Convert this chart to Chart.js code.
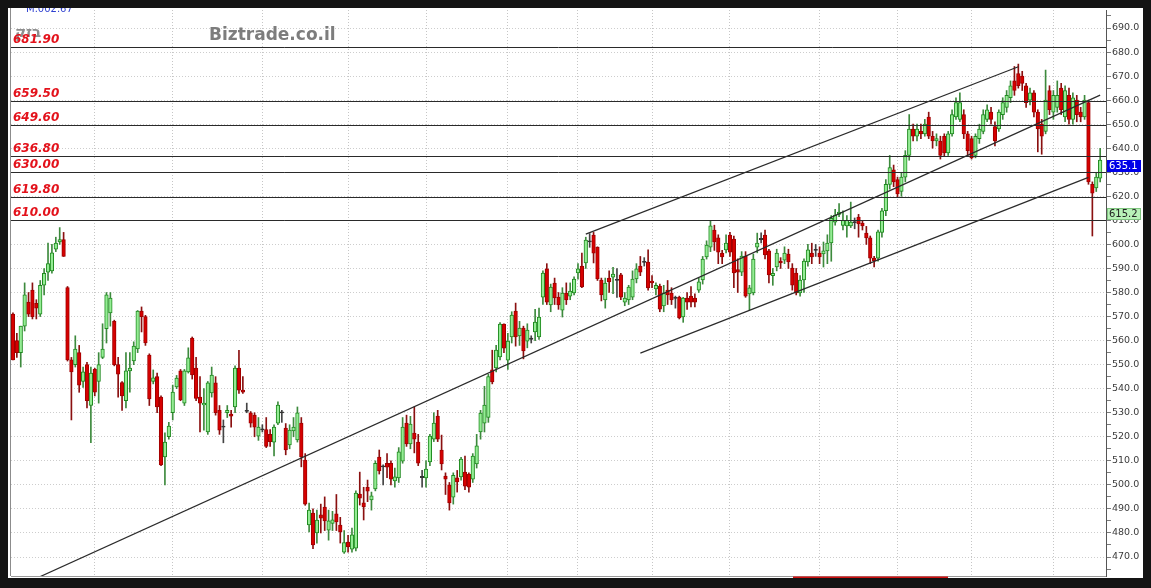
<!DOCTYPE html>
<html>
<head>
<meta charset="utf-8">
<script src="https://cdn.jsdelivr.net/npm/chart.js@4.4.1/dist/chart.umd.min.js"></script>
<style>
  html, body { margin: 0; padding: 0; background: #141414; width: 1151px; height: 588px; overflow: hidden; }
  #c { position: absolute; left: 8px; top: 8px; }
</style>
</head>
<body>
<canvas id="c" width="1135" height="570"></canvas>
<script>
// Daily OHLC, oldest first
const open = [
  571, 560, 555, 566, 576, 581, 575.5, 571, 583, 588.5,
  589, 598, 601, 602, 582, 552, 550, 555, 543, 550,
  533, 548, 543, 553, 565, 571.5, 568, 550, 542.5, 535,
  547.4, 551.5, 556.5, 572.3, 570, 554, 543, 545, 536.5, 511.6,
  520, 530, 540.7, 547.4, 534, 547, 561, 548.6, 536.5, 533.2,
  522, 538.2, 542.4, 531, 524, 530, 529.4, 532.4, 548.6, 539.4,
  531, 530, 529, 520.3, 523, 523, 521, 517.8, 525.7, 530.3,
  523.6, 516.6, 522.4, 518.7, 525.7, 510.3, 483.3, 488.3, 480, 487.5,
  490.8, 481.2, 484, 488, 483.3, 472, 476.2, 473.3, 473.7, 496.2,
  492.5, 499, 493.7, 498.3, 511.6, 507.5, 509, 509, 501.6, 502.9,
  509.9, 525.7, 517, 521.5, 517.8, 503, 502.9, 509.5, 519, 528.6,
  514.5, 503.7, 500, 494.9, 502.9, 503.3, 505.3, 504.5, 502.4, 508.7,
  522, 525.7, 528, 547.8, 548.6, 553.2, 566.9, 551.9, 561.5, 572.3,
  561.9, 565.2, 559.8, 560.5, 563.6, 561.5, 578.1, 589.8, 574.8, 583.9,
  578.1, 572.7, 579.8, 578.5, 579.8, 588.1, 591, 592.3, 601, 603.9,
  598.9, 585.2, 576.9, 586, 586.4, 585, 587.3, 576, 576.9, 578.1,
  585.6, 591, 592.5, 592.7, 584.8, 581.5, 582.7, 574.4, 581, 579.8,
  578, 578.1, 569.8, 577.7, 578.5, 577.7, 581, 585.2, 594.8, 598.9,
  606, 602.7, 596.4, 597.7, 603.9, 602.2, 589.5, 588.5, 595.2, 579.4,
  579.8, 598.9, 602, 603.9, 597.3, 587, 590.6, 593.1, 593.5, 596,
  590.2, 588.1, 579.8, 585.2, 592.7, 596.4, 598, 596.4, 596, 597.3,
  600.6, 609.3, 612.5, 607.9, 607.7, 607.7, 609.5, 611.4, 608.9, 604.7,
  602.7, 594.3, 594.3, 605, 614, 625, 631, 627, 622, 628,
  637, 648, 645, 647, 646, 653, 645, 643, 643, 645,
  638, 646, 653, 652, 654, 646, 644, 637, 644, 647,
  652, 655, 649, 648, 654, 657, 661, 668, 671, 670,
  666, 660, 663, 655, 650, 647, 664, 655, 657, 665,
  653, 662, 652, 660, 655, 653, 659, 625, 623.5, 627.6
];
const high = [
  571.6, 563, 566, 584, 580, 584, 577, 585, 590, 600.6,
  600, 603, 607, 605, 582.5, 553, 562, 558, 549, 551,
  549, 548.5, 555, 567, 580, 580, 568.5, 553, 543, 555,
  555, 559.5, 572.5, 574, 570.5, 554.5, 547.8, 546.5, 537, 521.6,
  526, 541.5, 545.5, 548, 548, 557, 561.5, 553, 545, 540,
  543, 549, 545, 533, 527, 533, 531, 549.5, 556, 545,
  534, 530.5, 530, 528, 525, 528, 523, 525, 534.5, 531,
  525.5, 525, 528, 532.4, 528, 513, 492.4, 490, 489.5, 492,
  495, 489.5, 489, 496, 486.5, 481, 479, 482, 497.5, 505.3,
  499, 502, 497, 510, 514.5, 508.3, 513, 510, 507, 515.5,
  528, 529, 528.5, 532.4, 521, 506, 510, 521, 530, 531,
  520.7, 505, 501, 505, 506, 511.5, 512, 505, 513, 521,
  531, 541, 546, 556, 558, 567.5, 567, 563, 572, 575.6,
  568, 566, 567, 562, 573, 573.5, 589, 592, 583.5, 586,
  580, 582, 584, 584, 586.5, 592, 596.4, 603, 604.5, 605,
  599, 586, 586, 589, 590.5, 590, 588, 580, 583, 589,
  592, 595, 594.5, 597.7, 587, 584, 583.5, 583, 585, 582,
  578.5, 578.5, 578, 580, 582.5, 579.5, 586, 595, 601.5, 610,
  608, 604, 597.5, 604, 605, 603.5, 594, 597, 597, 583,
  596, 604.7, 604.8, 606, 598, 590, 598, 594.5, 599, 598,
  592, 590, 587, 594, 600, 600.5, 600, 599, 601, 604,
  612, 614.6, 617, 614, 612, 617.6, 611, 612.5, 610, 607.5,
  603.5, 595, 606, 615, 627, 637, 633, 628, 630, 639,
  654, 650, 650, 650, 652, 655, 647, 646, 645, 646,
  647, 656, 661, 663, 656, 647, 645, 646, 650, 656,
  658, 657, 651, 656, 661, 664, 668, 674, 675, 672,
  667, 665, 664, 656, 652, 672.5, 666, 664, 668, 667,
  666, 665, 663, 662, 657, 662, 660, 626, 630, 640
];
const low = [
  552, 553, 549, 564, 570, 569, 569, 570, 579, 585,
  588, 597, 600, 595, 551.5, 527, 549, 538.5, 540.5, 532,
  517.5, 537, 534, 552.5, 559, 566, 549.5, 536.5, 531, 532,
  538.6, 550, 555, 563.6, 558, 533, 542, 530, 508, 500,
  519, 527, 540, 535, 533, 546.5, 544, 535, 522, 522.8,
  521, 536.5, 529, 521, 517.5, 528, 524, 530, 538, 538,
  530, 524, 520, 518.5, 522, 515.5, 516, 512, 525, 526,
  512.5, 515, 520, 517.8, 507.5, 491.5, 480.4, 473.5, 475.8, 480,
  481, 477, 481, 481, 475.8, 471.5, 472, 472, 472.5, 491.6,
  485.4, 493, 489.5, 497.5, 504.5, 500, 503, 500, 499, 501,
  509, 516, 515, 513.3, 508, 499, 499, 508, 518, 518,
  506.2, 496, 489.5, 492, 497, 502, 498, 497, 501, 507,
  519, 522, 526, 542, 547, 552, 555, 548, 559, 557.7,
  558, 552.4, 557, 559, 560, 560.5, 575, 575, 572, 575,
  573, 569.8, 575, 577, 579, 585.5, 582, 590, 598.8, 592.3,
  585, 576.5, 573.5, 580, 579.5, 578, 577, 574.5, 575, 577,
  584, 587, 591, 581, 582, 579, 572, 572, 575, 575,
  573.5, 569, 567.6, 573, 574, 574, 580, 583.5, 593.9, 597,
  597.5, 592, 592, 596.5, 595, 582, 580, 587, 578, 572.7,
  579, 596.5, 600.6, 594, 584, 583, 589, 590, 592, 590,
  581, 579, 578.5, 580, 591, 592, 595, 592, 590.6, 592,
  593, 608, 611.5, 606, 603, 607, 606.5, 603, 606, 600,
  592, 590.6, 593, 603, 612, 623, 624, 619.5, 620, 626,
  635, 643, 643, 644, 645, 644, 640, 641, 635.5, 636.5,
  637, 645, 652, 651, 644, 637, 635.5, 636, 642, 646,
  651, 650, 641, 647, 652, 655, 659, 662, 665, 664,
  657, 658, 653, 638.5, 637.5, 646, 654, 652, 655, 654,
  651, 650, 650, 651, 651, 652, 625, 603.5, 622, 626
];
const close = [
  552, 555, 566, 579, 571, 570, 573.5, 583, 588, 592,
  596.5, 600.6, 602, 595, 552, 547, 556.5, 541.5, 547, 535,
  546.5, 538.5, 550, 556.5, 579, 577.7, 550, 546, 537, 547.4,
  548.6, 557.7, 572.3, 570, 559, 535.7, 544.5, 532.4, 508.3, 517.8,
  524.5, 538.6, 544.4, 535.3, 547.4, 552.8, 545.7, 536, 534, 534,
  542.4, 545.7, 530, 522.8, 524.5, 531, 528.6, 548.6, 539.4, 538.6,
  530.5, 525.7, 524, 524, 523.2, 516, 518, 524, 533.2, 530,
  514.5, 522.8, 524, 530, 511.6, 492, 489.5, 475, 485.4, 486.2,
  485, 485, 485.5, 484.6, 480.4, 476, 474.2, 479.2, 496.6, 494.5,
  490.8, 497.4, 495.4, 509, 505.8, 507.9, 507.4, 502.4, 503.3, 513.7,
  524, 517, 525.3, 519, 509, 503.5, 506.6, 520.3, 525.7, 519,
  508.7, 502.4, 492.5, 504, 501.2, 510.7, 499.5, 499, 512, 516.2,
  529.9, 533.2, 545, 542.8, 556.1, 566.9, 556.9, 559.8, 570.6, 561.5,
  565.2, 555.7, 564.4, 561, 567.7, 569.8, 588.1, 576, 582.3, 577.7,
  574.8, 579.8, 576.9, 580.6, 585.6, 589.8, 582.3, 601.8, 601.5, 596.4,
  585.6, 579, 583.9, 584.4, 587.7, 585.5, 578.1, 577.7, 582.3, 585.6,
  589.8, 588.5, 593, 581.9, 584, 583, 573.1, 579.8, 579, 576.9,
  577.5, 569.4, 577.7, 576, 576, 576, 584.4, 593.9, 599.7, 607.7,
  601, 596.8, 594.8, 600.6, 596.8, 588.1, 588.5, 595.2, 578.5, 581.9,
  593.9, 600.6, 602.5, 595.6, 587.3, 588, 596.4, 592.3, 596.4, 592.7,
  583.1, 579.8, 585.2, 593.1, 597.7, 594.8, 597.5, 594.8, 597.3, 600.6,
  610.8, 612.2, 613.5, 610, 610, 609.3, 609, 608.5, 607.7, 602.7,
  594.3, 593.1, 605.2, 614, 625, 632, 626, 621, 628, 637,
  648, 645, 648, 646, 650, 645, 643, 644, 637, 638,
  646, 654, 659, 659, 646, 639, 636, 645, 648, 654,
  656, 652, 643, 655, 659, 662, 666, 664, 666, 667,
  659, 663, 655, 648, 645, 660, 656, 662, 662, 656,
  664, 652, 661, 654, 653, 660, 626, 621.3, 628, 635.1
];

// Sessions on the time axis (one spare slot after the last bar)
const sessions = Array.from({ length: open.length + 1 }, (_, i) => String(i + 1));
// First session of each month: vertical grid lines
const monthStarts = [21, 41, 64, 86, 106, 127, 145, 164, 184, 207, 227, 246, 267];

// Price axis ticks (labelled every 10, minor marks every 5)
const yTicks = [465, 470, 475, 480, 485, 490, 495, 500, 505, 510, 515, 520, 525, 530, 535, 540,
  545, 550, 555, 560, 565, 570, 575, 580, 585, 590, 595, 600, 605, 610, 615, 620, 625, 630,
  635, 640, 645, 650, 655, 660, 665, 670, 675, 680, 685, 690, 695];
const yMin = 462.1, yMax = 697.49;

// Support / resistance levels
const levels = [681.9, 659.5, 649.6, 636.8, 630.0, 619.8, 610.0];

// Trend lines: [fromSession, fromPrice, toSession, toPrice] (0-based sessions)
const trendLines = [
  [0, 456.7, 279, 662.1],
  [147, 604.3, 258, 673.9],
  [161, 554.8, 276, 627.9]
];

// Indicator reading shown on the price axis
const avgValue = 615.2;
const lastValue = close[close.length - 1];

const GREEN_FILL = '#94ec94', GREEN_LINE = '#1f8a1f';
const RED_FILL = '#d60000', RED_LINE = '#a00000';
const DOJI = '#333333';

const kind = open.map((o, i) => Math.abs(close[i] - o) < 0.6 ? 'd' : (close[i] >= o ? 'u' : 'r'));

const bodies = open.map((o, i) => {
  const a = Math.min(o, close[i]), b = Math.max(o, close[i]);
  if (b - a < 0.5) { const m = (a + b) / 2; return [m - 0.25, m + 0.25]; }
  return [a, b];
});
const wicks = open.map((o, i) => [low[i], high[i]]);

const bodyFill = kind.map(k => k === 'u' ? GREEN_FILL : k === 'r' ? RED_FILL : DOJI);
const bodyLine = kind.map(k => k === 'u' ? GREEN_LINE : k === 'r' ? RED_LINE : DOJI);
const wickColor = kind.map(k => k === 'u' ? '#3d8a3d' : k === 'r' ? '#8a1010' : '#444444');

const trendSets = trendLines.map(([i1, v1, i2, v2]) => {
  const d = new Array(sessions.length).fill(null);
  d[i1] = v1; d[i2] = v2;
  return {
    type: 'line', data: d, spanGaps: true, borderColor: '#2b2b2b', borderWidth: 1.2,
    pointRadius: 0, tension: 0, order: 0
  };
});

const decorations = {
  id: 'decorations',
  beforeDraw(chart) {
    const { ctx, width, height } = chart;
    ctx.save();
    ctx.fillStyle = '#ffffff';
    ctx.fillRect(0, 0, width, height);
    ctx.restore();
  },
  beforeDatasetsDraw(chart) {
    const { ctx, chartArea } = chart;
    ctx.save();
    ctx.textBaseline = 'alphabetic';
    ctx.fillStyle = '#7d7d7d';
    ctx.font = 'bold 17px "DejaVu Sans", Verdana, sans-serif';
    ctx.fillText('Biztrade.co.il', 201, 32);
    ctx.fillStyle = '#8e8e8e';
    ctx.font = 'bold 15px "DejaVu Sans", sans-serif';
    ctx.fillText('בזק', chartArea.left + 4, 29);
    ctx.fillStyle = '#2d3fd0';
    ctx.font = '10px "DejaVu Sans", sans-serif';
    ctx.fillText('M.002.67', 18, 4);
    ctx.restore();
  },
  afterDatasetsDraw(chart) {
    const { ctx, chartArea } = chart;
    const y = chart.scales.y;
    ctx.save();
    ctx.beginPath();
    ctx.rect(chartArea.left, chartArea.top, chartArea.right - chartArea.left, chartArea.bottom - chartArea.top);
    ctx.clip();
    ctx.strokeStyle = '#2a2a2a';
    ctx.lineWidth = 1;
    levels.forEach(v => {
      const py = Math.round(y.getPixelForValue(v)) + 0.5;
      ctx.beginPath();
      ctx.moveTo(chartArea.left, py);
      ctx.lineTo(chartArea.right, py);
      ctx.stroke();
    });
    ctx.fillStyle = '#e3121b';
    ctx.font = 'italic bold 12px "DejaVu Sans", Verdana, sans-serif';
    ctx.textBaseline = 'alphabetic';
    levels.forEach(v => {
      const py = y.getPixelForValue(v);
      ctx.fillText(v.toFixed(2), chartArea.left + 2, py - 4);
    });
    ctx.restore();
  },
  afterDraw(chart) {
    const { ctx, chartArea } = chart;
    const y = chart.scales.y;
    ctx.save();
    // left frame edge
    ctx.strokeStyle = '#8c8c8c';
    ctx.beginPath();
    ctx.moveTo(chartArea.left - 0.5, 0);
    ctx.lineTo(chartArea.left - 0.5, chartArea.bottom);
    ctx.stroke();
    // price tags on the axis
    ctx.font = '10px "DejaVu Sans", sans-serif';
    ctx.textBaseline = 'middle';
    const tag = (v, fill, stroke, text) => {
      const py = Math.round(y.getPixelForValue(v));
      ctx.fillStyle = fill;
      ctx.fillRect(chartArea.right + 1, py, 34, 12);
      if (stroke) {
        ctx.strokeStyle = stroke;
        ctx.strokeRect(chartArea.right + 1.5, py + 0.5, 33, 11);
      }
      ctx.fillStyle = text;
      ctx.fillText(v.toFixed(1), chartArea.right + 3, py + 6.5);
    };
    tag(lastValue, '#0000e8', null, '#ffffff');
    tag(avgValue, '#b8f2b8', '#7fc47f', '#222222');
    // scroll position marker along the bottom edge
    ctx.fillStyle = '#d21010';
    ctx.fillRect(785, chartArea.bottom + 0.5, 155, 1.5);
    ctx.restore();
  }
};

new Chart(document.getElementById('c'), {
  type: 'bar',
  data: {
    labels: sessions,
    datasets: [
      {
        data: wicks, backgroundColor: wickColor, borderWidth: 0,
        barThickness: 1, grouped: false, order: 2
      },
      {
        data: bodies, backgroundColor: bodyFill, borderColor: bodyLine, borderWidth: 1,
        borderSkipped: false, barThickness: 3.6, grouped: false, order: 1
      },
      ...trendSets
    ]
  },
  options: {
    responsive: false,
    animation: false,
    events: [],
    layout: { padding: { left: 3, top: 2, bottom: 2, right: 0 } },
    plugins: { legend: { display: false }, tooltip: { enabled: false } },
    scales: {
      x: {
        type: 'category',
        offset: true,
        afterFit: axis => { axis.height = 0; axis.paddingLeft = 0; axis.paddingRight = 0; },
        ticks: { display: false, autoSkip: false, padding: 0 },
        grid: {
          offset: false, drawTicks: false, lineWidth: 1,
          color: ctx => monthStarts.includes(ctx.index) ? '#c6c6c6' : 'rgba(0,0,0,0)'
        },
        border: { display: true, color: '#9a9a9a', dash: [1, 2] }
      },
      y: {
        position: 'right',
        min: yMin,
        max: yMax,
        afterBuildTicks: axis => { axis.ticks = yTicks.map(v => ({ value: v })); },
        afterFit: axis => { axis.width = 37; axis.paddingTop = 0; axis.paddingBottom = 0; },
        ticks: {
          autoSkip: false,
          padding: 1,
          color: '#3a3a3a',
          font: { family: '"DejaVu Sans", Verdana, sans-serif', size: 9.5 },
          callback: v => v % 10 === 0 ? v.toFixed(1) : ''
        },
        grid: {
          tickLength: 5,
          tickColor: '#7a7a7a',
          color: ctx => (ctx.tick && ctx.tick.value % 10 === 0) ? '#cdcdcd' : 'rgba(0,0,0,0)'
        },
        border: { display: true, color: '#555555', dash: [1, 2] }
      }
    }
  },
  plugins: [decorations]
});
</script>
</body>
</html>
